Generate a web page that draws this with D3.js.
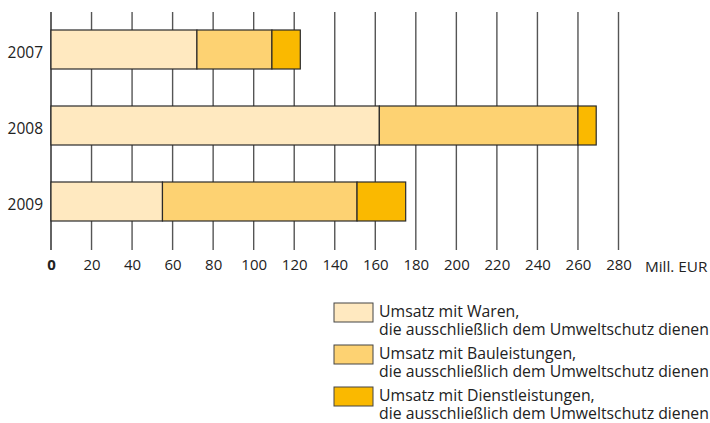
<!DOCTYPE html>
<html>
<head>
<meta charset="utf-8">
<script src="https://cdn.jsdelivr.net/npm/d3@7"></script>
<style>
  body { margin: 0; background: #fff; }
  svg { display: block; font-family: 'Open Sans', sans-serif; }
</style>
</head>
<body>
<div id="chart"></div>
<script>
const years = ['2007', '2008', '2009']
const waren = [72, 162, 55]
const bau = [37, 98, 96]
const dienst = [14, 9, 24]
const xTicks = [0, 20, 40, 60, 80, 100, 120, 140, 160, 180, 200, 220, 240, 260, 280]
const seriesNames = [
	['Umsatz mit Waren,', 'die ausschließlich dem Umweltschutz dienen'],
	['Umsatz mit Bauleistungen,', 'die ausschließlich dem Umweltschutz dienen'],
	['Umsatz mit Dienstleistungen,', 'die ausschließlich dem Umweltschutz dienen']
]
const colors = ['#ffe9c0', '#fdd272', '#fab900']

const width = 710
const height = 423

const data = years.map((y, i) => ({ year: y, waren: waren[i], bau: bau[i], dienst: dienst[i] }))
const keys = ['waren', 'bau', 'dienst']
const stacked = d3.stack().keys(keys)(data)

const svg = d3.select('#chart')
	.append('svg')
	.attr('width', width)
	.attr('height', height)

const xScale = d3.scaleLinear()
	.domain([0, 280])
	.range([51, 618.5])

const pi = 37 / 76
const yScale = d3.scaleBand()
	.domain(years)
	.range([11.5, 239.5])
	.paddingInner(pi)
	.paddingOuter(pi / 2)

// grid lines
svg.append('g')
	.selectAll('line')
	.data(xTicks)
	.join('line')
	.attr('x1', d => xScale(d))
	.attr('x2', d => xScale(d))
	.attr('y1', 12)
	.attr('y2', 250)
	.attr('stroke', d => d === 0 ? '#222' : '#555')
	.attr('stroke-width', 1.4)

// x axis labels
const xAxis = d3.axisBottom(xScale)
	.tickValues(xTicks)
	.tickSize(0)
	.tickPadding(0)

svg.append('g')
	.attr('transform', 'translate(0, 259)')
	.call(xAxis)
	.call(g => g.select('.domain').remove())
	.call(g => g.selectAll('text')
		.attr('font-family', 'Open Sans, sans-serif')
		.attr('font-size', 15)
		.attr('fill', '#222')
		.attr('font-weight', d => d === 0 ? 'bold' : 'normal'))

svg.append('text')
	.attr('x', 645)
	.attr('y', 272)
	.attr('font-size', 15.3)
	.attr('fill', '#222')
	.text('Mill. EUR')

// y labels
const yAxis = d3.axisLeft(yScale)
	.tickSize(0)
	.tickPadding(8)

svg.append('g')
	.attr('transform', 'translate(51, 0)')
	.call(yAxis)
	.call(g => g.select('.domain').remove())
	.call(g => g.selectAll('text')
		.attr('font-family', 'Open Sans, sans-serif')
		.attr('font-size', 15.5)
		.attr('fill', '#222')
		.attr('dy', '0.52em'))

// bars
svg.append('g')
	.selectAll('g')
	.data(stacked)
	.join('g')
	.attr('fill', (d, i) => colors[i])
	.selectAll('rect')
	.data(d => d)
	.join('rect')
	.attr('x', d => xScale(d[0]))
	.attr('y', d => yScale(d.data.year))
	.attr('width', d => xScale(d[1]) - xScale(d[0]))
	.attr('height', yScale.bandwidth())
	.attr('stroke', '#2a2a2a')
	.attr('stroke-width', 1.2)

// legend
const legend = svg.append('g')
	.selectAll('g')
	.data(seriesNames)
	.join('g')
	.attr('transform', (d, i) => `translate(334, ${303 + i * 42})`)

legend.append('rect')
	.attr('width', 39)
	.attr('height', 19)
	.attr('fill', (d, i) => colors[i])
	.attr('stroke', '#444')
	.attr('stroke-width', 1)

legend.selectAll('text')
	.data(d => d)
	.join('text')
	.attr('x', 45)
	.attr('y', (d, i) => 14 + i * 18)
	.attr('font-size', 15.8)
	.attr('fill', '#222')
	.text(d => d)
</script>
</body>
</html>
